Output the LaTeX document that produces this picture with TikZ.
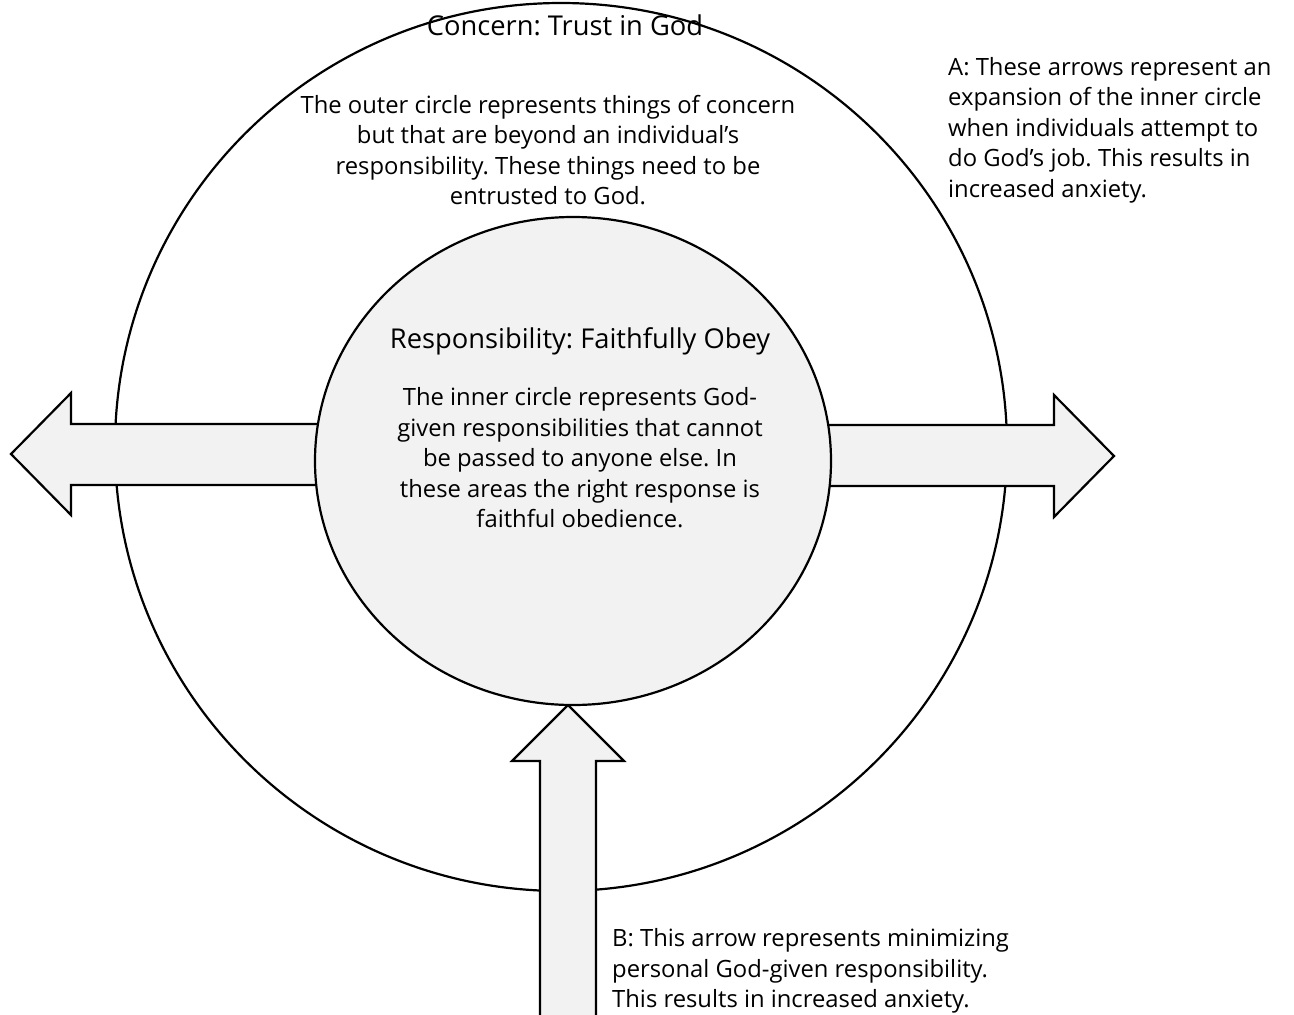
\documentclass[tikz,border=0pt]{standalone}
\usepackage{fontspec}
\setmainfont{Open Sans}
\frenchspacing
\definecolor{shade}{HTML}{F2F2F2}
\begin{document}
\begin{tikzpicture}[x=1pt,y=-1pt,
  shapeline/.style={draw=black,line width=2.2pt,line join=miter},
  blockarrow/.style={shapeline,fill=shade},
  txt/.style={inner sep=0pt,font=\fontsize{23.8}{30.5}\selectfont},
  ttl/.style={inner sep=0pt,font=\fontsize{27.3}{31}\selectfont},
  ctxt/.style={txt,align=center},
  ltxt/.style={txt,align=left,anchor=west}]
\useasboundingbox[fill=white] (0,0) rectangle (1294,1015);
% outer circle
\draw[shapeline,fill=white] (561,447) ellipse [x radius=446, y radius=444];
% arrows
\begin{scope}
\clip (0,0) rectangle (1294,1015);
\draw[blockarrow] (330,424) -- (71,424) -- (71,393) -- (11,454) -- (71,515) -- (71,485) -- (330,485) -- cycle;
\draw[blockarrow] (815,425) -- (1054,425) -- (1054,395) -- (1114,456) -- (1054,517) -- (1054,486) -- (815,486) -- cycle;
\draw[blockarrow] (540,1030) -- (540,761) -- (512,761) -- (568,705) -- (624,761) -- (596,761) -- (596,1030) -- cycle;
\end{scope}
% inner circle
\draw[shapeline,fill=shade] (573,461) ellipse [x radius=258, y radius=244];
% texts
\node[ttl] (concern) at (565,25) {Concern: Trust in God};
\node[ctxt] (outertxt) at (548,150) {The outer circle represents things of concern\\but that are beyond an individual’s\\responsibility. These things need to be\\entrusted to God.};
\node[ttl] (resp) at (580,341) {Responsibility: Faithfully Obey};
\node[ctxt] (innertxt) at (580,458) {The inner circle represents God-\\given responsibilities that cannot\\be passed to anyone else. In\\these areas the right response is\\faithful obedience.};
\node[ltxt] (notea) at (948,130) {A: These arrows represent an\\expansion of the inner circle\\when individuals attempt to\\do God’s job. This results in\\increased anxiety.};
\node[ltxt] (noteb) at (612,971) {B: This arrow represents minimizing\\personal God-given responsibility.\\This results in increased anxiety.};
\end{tikzpicture}
\end{document}
